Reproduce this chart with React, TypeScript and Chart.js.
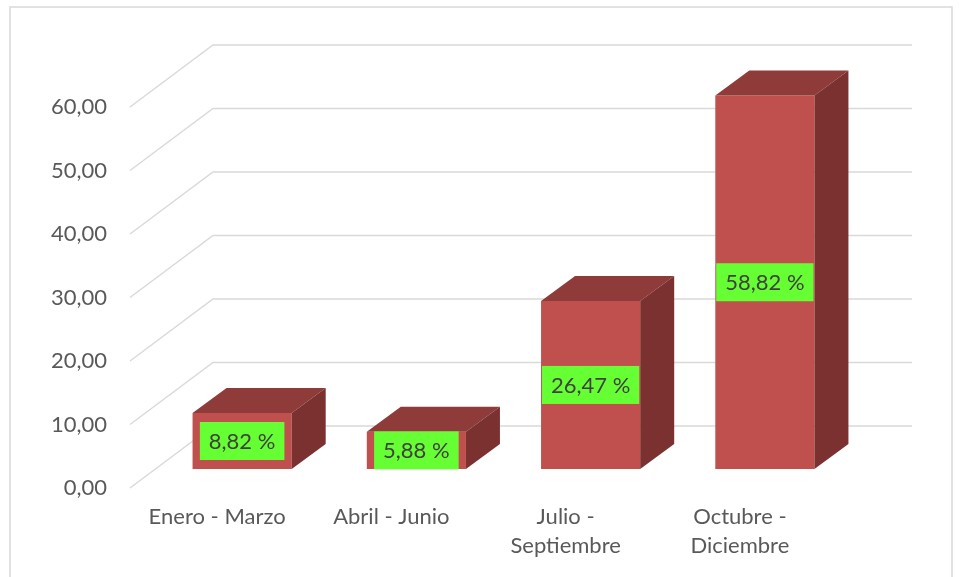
import { useEffect, useRef } from "react";
import { Chart, registerables } from "chart.js";

Chart.register(...registerables);

const categories: string[][] = [
  ["Enero - Marzo"],
  ["Abril - Junio"],
  ["Julio -", "Septiembre"],
  ["Octubre -", "Diciembre"],
];
const values: number[] = [8.82, 5.88, 26.47, 58.82];
const yMin = 0;
const yMax = 60;
const yStep = 10;

const W = 959;
const H = 577;
const FONT = "Lato";
const FONT_SIZE = 22;

// 3D projection offsets
const BAR_DX = 34;
const BAR_DY = 25;
const FRONT_DX = -25;
const FRONT_DY = 19;
const BACK_DX = 58;
const BACK_DY = -43;

const fmt = (v: number) => v.toFixed(2).replace(".", ",");

const threeD = {
  id: "threeD",
  beforeDraw(chart: any) {
    const ctx = chart.ctx;
    ctx.save();
    ctx.fillStyle = "#ffffff";
    ctx.fillRect(0, 0, chart.width, chart.height);
    ctx.strokeStyle = "#d9d9d9";
    ctx.lineWidth = 1.5;
    ctx.strokeRect(10, 7, 942, 620);
    ctx.restore();
  },
  beforeDatasetsDraw(chart: any) {
    const { ctx, chartArea } = chart;
    const y = chart.scales.y;
    ctx.save();
    ctx.strokeStyle = "#d9d9d9";
    ctx.lineWidth = 1.4;
    y.ticks.forEach((t: any) => {
      const yb = y.getPixelForValue(t.value);
      ctx.beginPath();
      ctx.moveTo(chartArea.left + FRONT_DX, yb + FRONT_DY);
      ctx.lineTo(chartArea.left + BACK_DX, yb + BACK_DY);
      ctx.lineTo(chartArea.right + BACK_DX + 2, yb + BACK_DY);
      ctx.stroke();
    });
    ctx.restore();
  },
  afterDatasetsDraw(chart: any) {
    const ctx = chart.ctx;
    const meta = chart.getDatasetMeta(0);
    ctx.save();
    meta.data.forEach((bar: any, i: number) => {
      const { x, y, base, width } = bar.getProps(["x", "y", "base", "width"], true);
      const l = x - width / 2;
      const r = x + width / 2;
      // top face
      ctx.fillStyle = "#8e3b39";
      ctx.beginPath();
      ctx.moveTo(l, y);
      ctx.lineTo(l + BAR_DX, y - BAR_DY);
      ctx.lineTo(r + BAR_DX, y - BAR_DY);
      ctx.lineTo(r, y);
      ctx.closePath();
      ctx.fill();
      // side face
      ctx.fillStyle = "#7b3130";
      ctx.beginPath();
      ctx.moveTo(r, y);
      ctx.lineTo(r + BAR_DX, y - BAR_DY);
      ctx.lineTo(r + BAR_DX, base - BAR_DY);
      ctx.lineTo(r, base);
      ctx.closePath();
      ctx.fill();
      // data label
      const text = fmt(values[i]) + " %";
      ctx.font = `${FONT_SIZE}px ${FONT}`;
      const tw = ctx.measureText(text).width;
      const bw = tw + 18;
      const bh = 38;
      const cy = (y + base) / 2;
      ctx.fillStyle = "#66ff33";
      ctx.fillRect(x - bw / 2, cy - bh / 2, bw, bh);
      ctx.fillStyle = "#404040";
      ctx.textAlign = "center";
      ctx.textBaseline = "middle";
      ctx.fillText(text, x, cy + 1);
    });
    ctx.restore();
  },
};

export default function App() {
  const ref = useRef<HTMLCanvasElement | null>(null);
  useEffect(() => {
    if (!ref.current) return;
    const chart = new Chart(ref.current, {
      type: "bar",
      data: {
        labels: categories,
        datasets: [
          {
            data: values,
            backgroundColor: "#c0504d",
            borderWidth: 0,
            categoryPercentage: 1,
            barPercentage: 0.569,
          },
        ],
      },
      options: {
        animation: false,
        responsive: false,
        devicePixelRatio: 1,
        layout: { padding: { top: 88, right: 107, bottom: 0, left: 0 } },
        plugins: { legend: { display: false }, tooltip: { enabled: false } },
        scales: {
          x: {
            grid: { display: false, drawTicks: false },
            border: { display: false },
            ticks: {
              color: "#595959",
              font: { family: FONT, size: FONT_SIZE, lineHeight: 1.3 },
              padding: 34,
              labelOffset: FRONT_DX,
              maxRotation: 0,
              autoSkip: false,
            },
            afterFit: (s: any) => {
              s.height = 108;
            },
          },
          y: {
            min: yMin,
            max: yMax,
            grid: { display: false, drawTicks: false },
            border: { display: false },
            ticks: {
              stepSize: yStep,
              color: "#595959",
              font: { family: FONT, size: FONT_SIZE },
              padding: 48,
              labelOffset: FRONT_DY,
              callback: (v: any) => fmt(Number(v)),
            },
            afterFit: (s: any) => {
              s.width = 155;
            },
          },
        },
      },
      plugins: [threeD],
    });
    return () => chart.destroy();
  }, []);
  return (
    <div style={{ position: "absolute", left: 0, top: 0, width: W, height: H }}>
      <canvas ref={ref} width={W} height={H} />
    </div>
  );
}
